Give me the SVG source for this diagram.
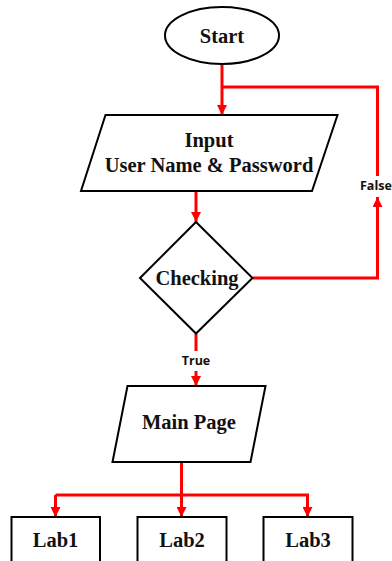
<svg xmlns="http://www.w3.org/2000/svg" width="392" height="561" viewBox="0 0 392 561">
<style>
.shape{fill:#fff;stroke:#000;stroke-width:2}
.t{font-family:"Liberation Serif","Times New Roman",serif;font-weight:bold;font-size:20.5px;fill:#111;text-anchor:middle}
.c{fill:none;stroke:#f00;stroke-width:3}
.lbl{font-family:"Open Sans","Noto Sans",sans-serif;font-weight:bold;font-size:12.5px;fill:#111}
</style>
<defs>
<marker id="ah" markerWidth="10" markerHeight="10" viewBox="0 0 10 10" refX="10" refY="5" orient="auto" markerUnits="userSpaceOnUse">
<path d="M0,0 L10,5 L0,10 z" fill="#f00"/>
</marker>
</defs>
<g id="connectors">
<path class="c" d="M222,64 V115" marker-end="url(#ah)"/>
<path class="c" d="M222,87 H377.5 V176"/>
<path class="c" d="M196,191 V222" marker-end="url(#ah)"/>
<path class="c" d="M253,278 H377.5 V197" marker-end="url(#ah)"/>
<path class="c" d="M196,334 V351"/>
<path class="c" d="M196,371 V386" marker-end="url(#ah)"/>
<path class="c" d="M181.5,462 V517" marker-end="url(#ah)"/>
<path class="c" d="M55.5,495 H307.5 V517" marker-end="url(#ah)"/>
<path class="c" d="M55.5,495 V517" marker-end="url(#ah)"/>
<text class="lbl" x="360" y="189.5">False</text>
<text class="lbl" x="196" y="365" text-anchor="middle">True</text>
</g>
<g id="start">
<ellipse class="shape" cx="222" cy="35.5" rx="57" ry="28.5"/>
<text class="t" x="222" y="43">Start</text>
</g>
<g id="input">
<polygon class="shape" points="105.5,115 337.5,115 312,191 81,191"/>
<text class="t" x="209" y="147">Input</text>
<text class="t" x="209" y="172">User Name &amp; Password</text>
</g>
<g id="checking">
<polygon class="shape" points="196,222 252.5,278 196,333.5 140,278"/>
<text class="t" x="197" y="285">Checking</text>
</g>
<g id="mainpage">
<polygon class="shape" points="127.5,386 265.5,386 250.5,462 112.5,462"/>
<text class="t" x="189" y="429">Main Page</text>
</g>
<g id="lab1">
<rect class="shape" x="11.5" y="517" width="88.5" height="46"/>
<text class="t" x="55.5" y="547">Lab1</text>
</g>
<g id="lab2">
<rect class="shape" x="137.5" y="517" width="89" height="46"/>
<text class="t" x="182" y="547">Lab2</text>
</g>
<g id="lab3">
<rect class="shape" x="263.5" y="517" width="89" height="46"/>
<text class="t" x="308" y="547">Lab3</text>
</g>
</svg>
